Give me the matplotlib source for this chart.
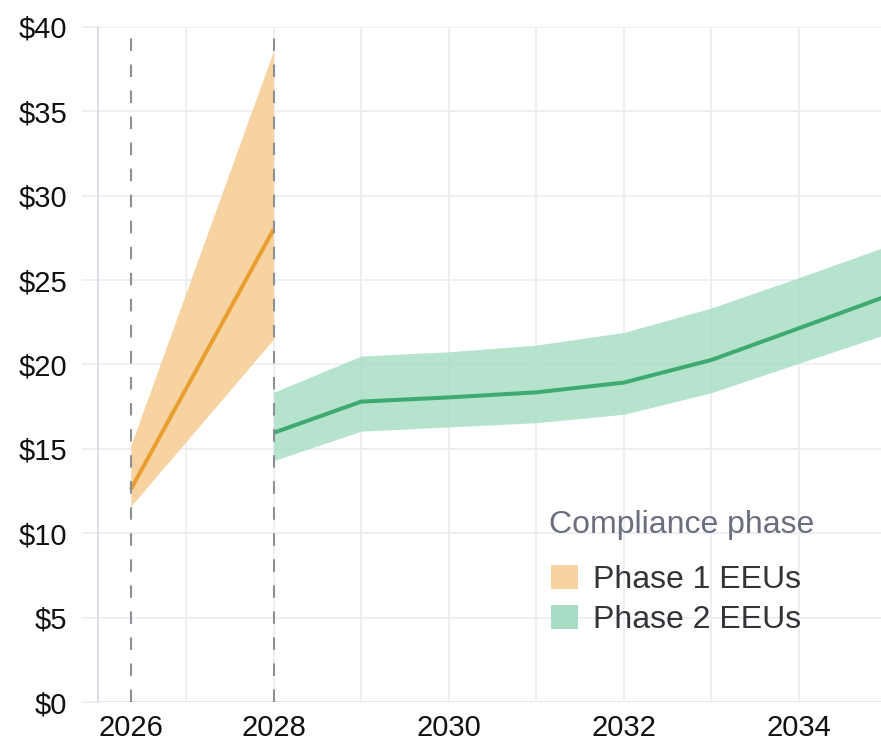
import matplotlib
matplotlib.use("Agg")
import matplotlib.pyplot as plt
from matplotlib.patches import Patch

plt.rcParams["font.family"] = ["Liberation Sans", "DejaVu Sans"]

# Phase 1 compliance price projection (start date expressed as fractional year)
phase1_years = [2026.37, 2028.0]
phase1_mid = [12.6, 28.0]
phase1_low = [11.6, 21.5]
phase1_high = [15.2, 38.6]

# Phase 2 compliance price projection
phase2_years = [2028, 2029, 2030, 2031, 2032, 2033, 2034, 2035]
phase2_mid = [15.95, 17.8, 18.05, 18.35, 18.93, 20.27, 22.15, 24.05]
phase2_low = [14.3, 16.05, 16.3, 16.55, 17.05, 18.33, 20.08, 21.8]
phase2_high = [18.35, 20.5, 20.75, 21.15, 21.9, 23.35, 25.15, 27.0]

phase_starts = [2026.37, 2028.0]

x_ticks = [2026, 2028, 2030, 2032, 2034]
y_ticks = [0, 5, 10, 15, 20, 25, 30, 35, 40]
y_labels = [f"${v}" for v in y_ticks]

legend_title = "Compliance phase"
legend_labels = ["Phase 1 EEUs", "Phase 2 EEUs"]

orange_line = "#E99F2F"
orange_band = "#F6D3A1"
green_line = "#3EAA72"
green_band = "#A8DEC5"
grid_color = "#EDEEF1"

W, H = 881, 746
fig = plt.figure(figsize=(W / 100, H / 100), dpi=100)
ax_left, ax_right, ax_top, ax_bottom = 98.4, 886.6, 27.0, 702.0
ax = fig.add_axes([ax_left / W, 1 - ax_bottom / H,
                   (ax_right - ax_left) / W, (ax_bottom - ax_top) / H])

ax.set_xlim(2026, 2035)
ax.set_ylim(0, 40)

# grid
for yr in range(2027, 2035):
    ax.axvline(yr, color=grid_color, lw=1.3, zorder=0)
for v in y_ticks:
    ax.axhline(v, color=grid_color if v else "#E2E3E8", lw=1.3, zorder=0)

# bands and lines
ax.fill_between(phase1_years, phase1_low, phase1_high, color=orange_band,
                lw=0, zorder=2)
ax.plot(phase1_years, phase1_mid, color=orange_line, lw=2.9,
        solid_capstyle="butt", zorder=3)
ax.fill_between(phase2_years, phase2_low, phase2_high, color=green_band,
                lw=0, alpha=0.85, zorder=2)
ax.plot(phase2_years, phase2_mid, color=green_line, lw=2.9,
        solid_capstyle="butt", zorder=3)

# phase boundaries
for xs in phase_starts:
    ax.plot([xs, xs], [0, 40], color="#8E8F95", lw=1.5, zorder=4,
            dashes=(6, 6.5), dash_capstyle="butt")

for side in ["top", "right", "bottom"]:
    ax.spines[side].set_visible(False)
ax.spines["left"].set_color("#D9DBE6")
ax.spines["left"].set_linewidth(1.3)

ax.set_xticks(x_ticks)
ax.set_xticklabels([str(t) for t in x_ticks])
ax.set_yticks(y_ticks)
ax.set_yticklabels(y_labels)
ax.tick_params(axis="x", which="both", length=0, pad=9, labelsize=21,
               labelcolor="#111111")
ax.tick_params(axis="y", length=11.5, width=1.3, color=grid_color, pad=11,
               labelsize=21, labelcolor="#111111")
ax.get_xticklabels()[0].set_horizontalalignment("left")

# legend
fig.text(549 / W, 1 - 533 / H, legend_title, fontsize=23, color="#6A6E7E",
         ha="left", va="baseline")
handles = [Patch(facecolor=orange_band, edgecolor="none"),
           Patch(facecolor=green_band, edgecolor="none")]
leg = ax.legend(handles, legend_labels, frameon=False,
                loc="upper left", bbox_to_anchor=(551 / W, 1 - 565 / H),
                bbox_transform=fig.transFigure, fontsize=23,
                handlelength=0.85, handleheight=0.78,
                handletextpad=0.45, labelspacing=0.31, borderpad=0,
                borderaxespad=0)
for t in leg.get_texts():
    t.set_color("#333338")
leg.set_zorder(5)

fig.savefig("out.png", dpi=100)
